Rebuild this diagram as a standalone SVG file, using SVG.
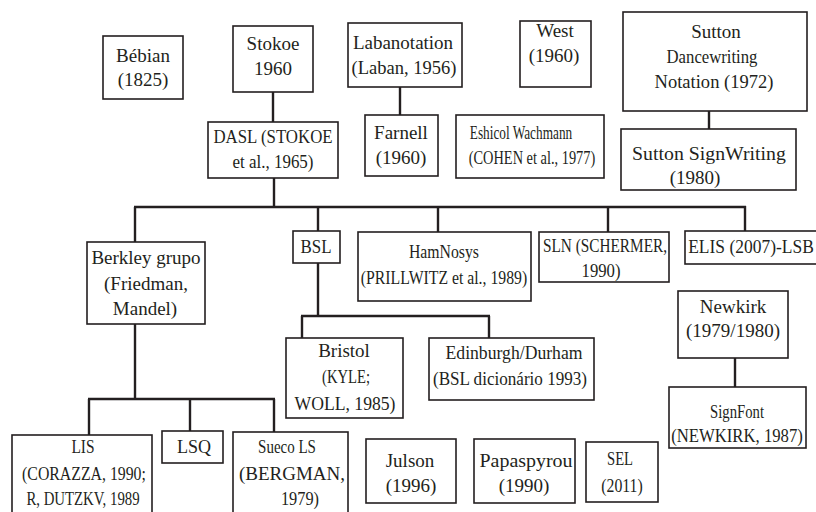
<svg xmlns="http://www.w3.org/2000/svg" width="816" height="512" viewBox="0 0 816 512">
<style>
rect{fill:#fff;stroke:#231f20;stroke-width:1.6}
text{font-size:19px;fill:#231f20;text-anchor:middle}
.n{font-family:'Liberation Serif'}
.c line{stroke:#231f20;stroke-width:2.4}
</style>
<rect x="0" y="0" width="816" height="512" style="stroke:none"/>
<g class="c" id="connectors">
<line x1="273" y1="92" x2="273" y2="122"/>
<line x1="400" y1="87" x2="400" y2="115"/>
<line x1="709" y1="111" x2="709" y2="129"/>
<line x1="274" y1="178" x2="274" y2="207"/>
<line x1="134" y1="207" x2="746" y2="207"/>
<line x1="135" y1="207" x2="135" y2="242"/>
<line x1="318" y1="207" x2="318" y2="231"/>
<line x1="438" y1="207" x2="438" y2="232"/>
<line x1="608" y1="207" x2="608" y2="232"/>
<line x1="745" y1="206" x2="745" y2="231"/>
<line x1="318" y1="263" x2="318" y2="316"/>
<line x1="301" y1="316" x2="490" y2="316"/>
<line x1="302" y1="316" x2="302" y2="338"/>
<line x1="489" y1="316" x2="489" y2="338"/>
<line x1="135" y1="324" x2="135" y2="399"/>
<line x1="88" y1="399" x2="275" y2="399"/>
<line x1="89" y1="399" x2="89" y2="435"/>
<line x1="190" y1="399" x2="190" y2="431"/>
<line x1="274" y1="399" x2="274" y2="432"/>
<line x1="735" y1="358" x2="735" y2="387"/>
</g>
<g id="bebian" class="n"><rect x="103" y="36" width="80" height="63"/><text x="143" y="62">Bébian</text><text x="143" y="86">(1825)</text></g>
<g id="stokoe" class="n"><rect x="233" y="26" width="80" height="66"/><text x="273" y="50">Stokoe</text><text x="273" y="75">1960</text></g>
<g id="dasl" class="n"><rect x="208" y="122" width="130" height="56"/><text transform="translate(273 143) scale(0.885 1)">DASL (STOKOE</text><text transform="translate(273 168) scale(0.892 1)">et al., 1965)</text></g>
<g id="labanotation" class="n"><rect x="348" y="23" width="114" height="64"/><text x="403" y="49">Labanotation</text><text transform="translate(404 74) scale(0.976 1)">(Laban, 1956)</text></g>
<g id="farnell" class="n"><rect x="365" y="115" width="73" height="61"/><text x="401" y="139">Farnell</text><text x="401" y="164">(1960)</text></g>
<g id="west" class="n"><rect x="520" y="21" width="71" height="66"/><text x="555" y="37">West</text><text x="554" y="62">(1960)</text></g>
<g id="eshicol" class="n"><rect x="456" y="115" width="148" height="63"/><text transform="translate(521 139) scale(0.70 1)">Eshicol Wachmann</text><text transform="translate(532 164) scale(0.757 1)">(COHEN et al., 1977)</text></g>
<g id="sutton-dancewriting" class="n"><rect x="623" y="12" width="184" height="99"/><text x="716" y="38">Sutton</text><text transform="translate(712 63) scale(0.88 1)">Dancewriting</text><text transform="translate(714 88) scale(0.976 1)">Notation (1972)</text></g>
<g id="sutton-signwriting" class="n"><rect x="621" y="129" width="175" height="61"/><text transform="translate(709 160) scale(1.043 1)">Sutton SignWriting</text><text x="695" y="184">(1980)</text></g>
<g id="berkley" class="n"><rect x="87" y="242" width="118" height="82"/><text x="146" y="264">Berkley grupo</text><text x="146" y="290">(Friedman,</text><text x="145" y="315">Mandel)</text></g>
<g id="bsl" class="n"><rect x="293" y="231" width="47" height="32"/><text transform="translate(316 253) scale(0.89 1)">BSL</text></g>
<g id="hamnosys" class="n"><rect x="358" y="232" width="173" height="69"/><text transform="translate(444 258) scale(0.83 1)">HamNosys</text><text transform="translate(444 284) scale(0.83 1)">(PRILLWITZ et al., 1989)</text></g>
<g id="sln" class="n"><rect x="539" y="232" width="130" height="50"/><text transform="translate(605 252) scale(0.805 1)">SLN (SCHERMER,</text><text transform="translate(601 277) scale(0.88 1)">1990)</text></g>
<g id="elis" class="n"><rect x="685" y="231" width="135" height="33"/><text transform="translate(751 253) scale(0.92 1)">ELIS (2007)-LSB</text></g>
<g id="newkirk" class="n"><rect x="678" y="291" width="110" height="67"/><text x="733" y="313">Newkirk</text><text x="733" y="337">(1979/1980)</text></g>
<g id="bristol" class="n"><rect x="286" y="338" width="117" height="80"/><text x="344" y="357">Bristol</text><text transform="translate(346 383) scale(0.77 1)">(KYLE;</text><text transform="translate(345 410) scale(0.93 1)">WOLL, 1985)</text></g>
<g id="edinburgh" class="n"><rect x="429" y="338" width="165" height="62"/><text transform="translate(514 359) scale(0.93 1)">Edinburgh/Durham</text><text transform="translate(510 385) scale(0.90 1)">(BSL dicionário 1993)</text></g>
<g id="signfont" class="n"><rect x="669" y="387" width="137" height="61"/><text transform="translate(737 418) scale(0.775 1)">SignFont</text><text transform="translate(737 442) scale(0.88 1)">(NEWKIRK, 1987)</text></g>
<g id="lis" class="n"><rect x="12" y="435" width="140" height="82"/><text transform="translate(83 453) scale(0.81 1)">LIS</text><text transform="translate(84 480) scale(0.833 1)">(CORAZZA, 1990;</text><text transform="translate(83 505) scale(0.78 1)">R, DUTZKV, 1989</text></g>
<g id="lsq" class="n"><rect x="162" y="431" width="61" height="32"/><text transform="translate(194 453) scale(0.95 1)">LSQ</text></g>
<g id="sueco" class="n"><rect x="233" y="432" width="115" height="85"/><text transform="translate(287 453) scale(0.79 1)">Sueco LS</text><text x="292" y="480">(BERGMAN,</text><text transform="translate(300 505) scale(0.86 1)">1979)</text></g>
<g id="julson" class="n"><rect x="366" y="439" width="90" height="64"/><text x="410" y="467">Julson</text><text x="411" y="492">(1996)</text></g>
<g id="papaspyrou" class="n"><rect x="474" y="439" width="101" height="64"/><text transform="translate(526 467) scale(1.05 1)">Papaspyrou</text><text x="524" y="492">(1990)</text></g>
<g id="sel" class="n"><rect x="586" y="442" width="72" height="60"/><text transform="translate(620 465) scale(0.77 1)">SEL</text><text transform="translate(622 492) scale(0.83 1)">(2011)</text></g>
</svg>
